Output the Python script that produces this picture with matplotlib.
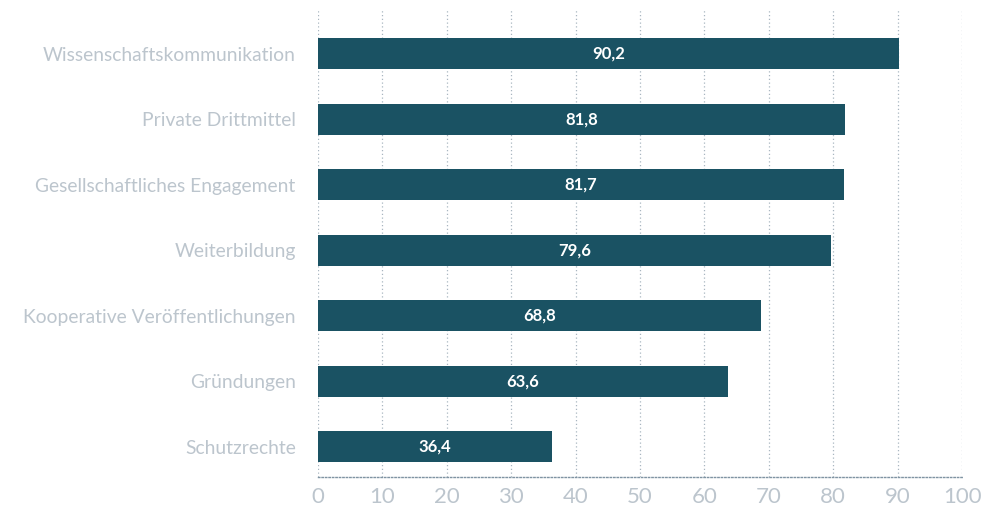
import matplotlib
matplotlib.use('Agg')
import matplotlib.pyplot as plt

categories = ['Wissenschaftskommunikation', 'Private Drittmittel', 'Gesellschaftliches Engagement',
              'Weiterbildung', 'Kooperative Veröffentlichungen', 'Gründungen', 'Schutzrechte']
values = [90.2, 81.8, 81.7, 79.6, 68.8, 63.6, 36.4]
xticks = [0, 10, 20, 30, 40, 50, 60, 70, 80, 90, 100]

BAR = '#1a5263'
GRAY = '#bcc5cd'

plt.rcParams['font.family'] = ['Lato', 'DejaVu Sans']

fig = plt.figure(figsize=(9.93, 5.09), dpi=100)
ax = fig.add_axes([0.3202, 0.0629, 0.6486, 0.9175])

ypos = list(range(len(categories)))[::-1]
ax.barh(ypos, values, height=0.47, color=BAR, zorder=3)
for y, v in zip(ypos, values):
    ax.text(v / 2, y, f'{v:.1f}'.replace('.', ','), ha='center', va='center',
            color='white', fontsize=12, fontweight='bold', zorder=4)

ax.set_xlim(0, 100)
ax.set_ylim(-0.46, 6.67)
ax.set_xticks(xticks)
ax.set_yticks(ypos)
ax.set_yticklabels(categories)
ax.tick_params(axis='x', colors=GRAY, labelsize=16, length=0, pad=7)
ax.tick_params(axis='y', colors=GRAY, labelsize=13.9, length=0, pad=16)

ax.grid(axis='x', color='#a9b6c0', linestyle=(0, (1, 2)), linewidth=0.9, zorder=1)
for s in ['top', 'right', 'left']:
    ax.spines[s].set_visible(False)
ax.spines['bottom'].set_color('#7f93a2')
ax.spines['bottom'].set_linestyle((0, (1, 1.5)))
ax.spines['bottom'].set_linewidth(1.0)

fig.savefig('out.png', dpi=100)
